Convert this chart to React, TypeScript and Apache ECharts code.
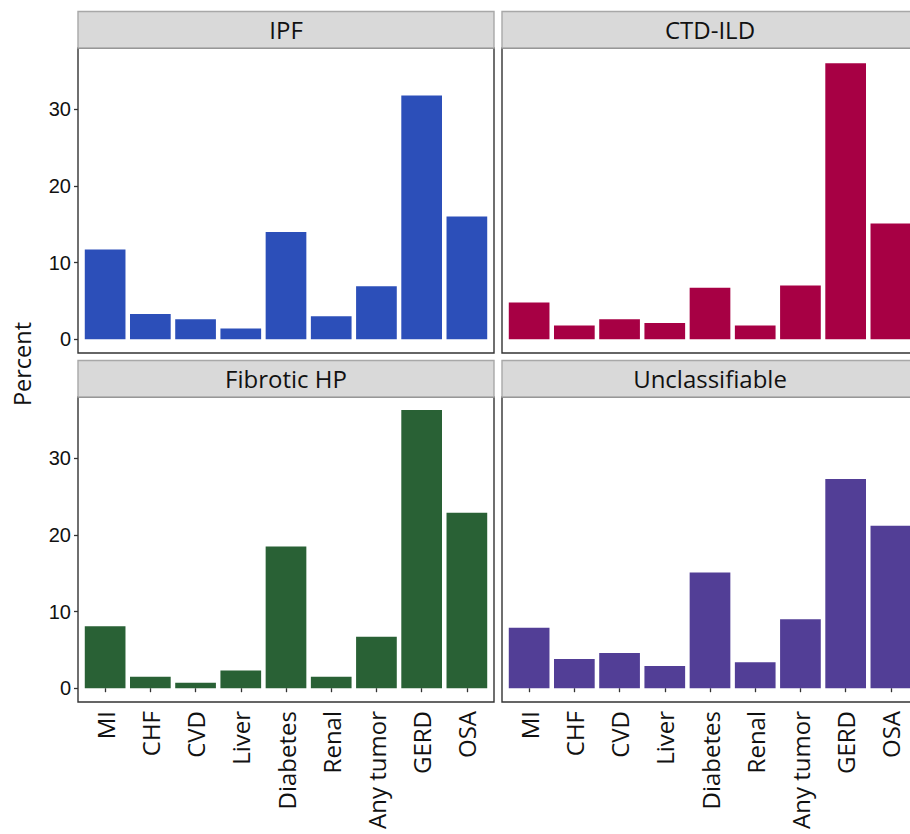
import React, { useEffect, useRef } from "react";
import * as echarts from "echarts";

const categories = ["MI", "CHF", "CVD", "Liver", "Diabetes", "Renal", "Any tumor", "GERD", "OSA"];
const panelNames = ["IPF", "CTD-ILD", "Fibrotic HP", "Unclassifiable"];
const ipfValues = [11.7, 3.3, 2.6, 1.4, 14.0, 3.0, 6.9, 31.8, 16.0];
const ctdIldValues = [4.8, 1.8, 2.6, 2.1, 6.7, 1.8, 7.0, 36.0, 15.1];
const fibroticHpValues = [8.1, 1.5, 0.7, 2.3, 18.5, 1.5, 6.7, 36.3, 22.9];
const unclassifiableValues = [7.9, 3.8, 4.6, 2.9, 15.1, 3.4, 9.0, 27.3, 21.2];
const yTickValues = [0, 10, 20, 30];
const yAxisTitle = "Percent";
const panelColors = ["#2C4FB9", "#A70044", "#296135", "#523E96"];

const panelValues = [ipfValues, ctdIldValues, fibroticHpValues, unclassifiableValues];

export default function App() {
  const ref = useRef<HTMLDivElement>(null);

  useEffect(() => {
    document.body.style.margin = "0";
    if (!ref.current) return;
    const chart = echarts.init(ref.current, null, { renderer: "svg" });

    const W = 416;
    const H = 305;
    const lefts = [78, 502, 78, 502];
    const tops = [48, 48, 397, 397];
    const stripH = 36.5;
    const catPos = categories.map((_, i) => i + 1);
    const sansText = "'Open Sans', Lato, sans-serif";
    const numText = "'Liberation Sans', Arial, sans-serif";

    const grids = lefts.map((l, i) => ({
      left: l,
      top: tops[i],
      width: W,
      height: H,
      show: true,
      borderColor: "#333333",
      borderWidth: 1.4,
      backgroundColor: "#ffffff",
      containLabel: false,
      outerBoundsMode: "none",
    }));

    const xAxes = panelNames.map((_, i) => {
      const bottom = i >= 2;
      return {
        type: "value",
        gridIndex: i,
        min: 0.4,
        max: 9.6,
        splitLine: { show: false },
        axisLine: { show: false },
        axisTick: {
          show: bottom,
          customValues: catPos,
          length: 4,
          inside: false,
          lineStyle: { color: "#333333", width: 1.3 },
        },
        axisLabel: {
          show: bottom,
          customValues: catPos,
          rotate: 90,
          margin: 9,
          fontFamily: sansText,
          fontSize: 24,
          color: "#111111",
          hideOverlap: false,
          formatter: (v: number) => categories[Math.round(v) - 1] ?? "",
        },
      };
    });

    const yAxes = panelNames.map((_, i) => {
      const left = i % 2 === 0;
      return {
        type: "value",
        gridIndex: i,
        min: -1.8,
        max: 38.0,
        splitLine: { show: false },
        axisLine: { show: false },
        axisTick: {
          show: left,
          customValues: yTickValues,
          length: 4,
          inside: false,
          lineStyle: { color: "#333333", width: 1.3 },
        },
        axisLabel: {
          show: left,
          customValues: yTickValues,
          margin: 7,
          fontFamily: numText,
          fontSize: 20,
          color: "#111111",
        },
      };
    });

    const series = panelNames.map((name, i) => ({
      type: "bar",
      name,
      xAxisIndex: i,
      yAxisIndex: i,
      barWidth: 40.7,
      itemStyle: { color: panelColors[i] },
      data: panelValues[i].map((v, j) => [catPos[j], v]),
    }));

    const graphics: any[] = [];
    panelNames.forEach((name, i) => {
      graphics.push({
        type: "rect",
        shape: { x: lefts[i], y: tops[i] - stripH, width: W, height: stripH },
        style: { fill: "#D9D9D9", stroke: "#A8A8A8", lineWidth: 1.4 },
        z: 10,
      });
      graphics.push({
        type: "text",
        x: lefts[i] + W / 2,
        y: tops[i] - stripH / 2,
        style: {
          text: name,
          fontFamily: sansText,
          fontSize: 24,
          fill: "#111111",
          align: "center",
          verticalAlign: "middle",
        },
        z: 11,
      });
    });
    graphics.push({
      type: "text",
      x: 22,
      y: 364,
      rotation: Math.PI / 2,
      style: {
        text: yAxisTitle,
        fontFamily: sansText,
        fontSize: 23.5,
        fill: "#111111",
        align: "center",
        verticalAlign: "middle",
      },
    });

    chart.setOption({
      animation: false,
      backgroundColor: "#ffffff",
      grid: grids,
      xAxis: xAxes,
      yAxis: yAxes,
      series,
      graphic: graphics,
    } as any);

    return () => chart.dispose();
  }, []);

  return <div ref={ref} style={{ width: 910, height: 834, overflow: "hidden" }} />;
}
